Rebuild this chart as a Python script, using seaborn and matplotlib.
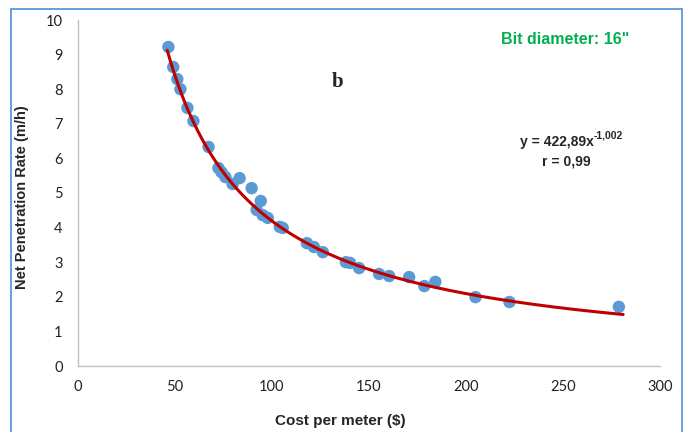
import numpy as np
import pandas as pd
import matplotlib
matplotlib.use("Agg")
import matplotlib.pyplot as plt
import seaborn as sns
from matplotlib.patches import Rectangle

# ---- data ----
cost = [46.6, 49.1, 51.2, 52.8, 56.4, 59.5, 67.3, 72.4, 74.0, 76.0, 79.7, 83.3,
        89.5, 94.2, 92.1, 95.2, 97.8, 104.0, 105.5, 118.0, 121.6, 126.2, 138.1,
        140.2, 144.9, 155.2, 160.4, 170.7, 178.5, 184.2, 204.9, 222.4, 278.8]
npr = [9.22, 8.64, 8.29, 8.00, 7.46, 7.08, 6.33, 5.72, 5.60, 5.46, 5.26, 5.43,
       5.14, 4.77, 4.51, 4.36, 4.28, 4.02, 3.99, 3.55, 3.44, 3.29, 3.00,
       2.98, 2.83, 2.66, 2.60, 2.57, 2.31, 2.43, 1.99, 1.85, 1.71]
# power trendline shown on the chart: y = a * x^b
coef_a = 422.89
coef_b = -1.002
trend_x_range = [46.0, 281.0]
x_ticks = [0, 50, 100, 150, 200, 250, 300]
y_ticks = list(range(0, 11))

df = pd.DataFrame({"cost": cost, "npr": npr})
tx = np.linspace(trend_x_range[0], trend_x_range[1], 300)
trend = pd.DataFrame({"cost": tx, "npr": coef_a * tx ** coef_b})

sns.set_theme(style="white")
plt.rcParams["font.family"] = ["Liberation Sans", "DejaVu Sans"]

fig = plt.figure(figsize=(6.85, 4.32), dpi=100)
ax = fig.add_axes([78/685, (432-366)/432, (660-78)/685, (366-20)/432])

sns.scatterplot(data=df, x="cost", y="npr", ax=ax, s=80, color="#5B9BD5",
                edgecolor="none", zorder=2)
sns.lineplot(data=trend, x="cost", y="npr", ax=ax, color="#C00000",
             linewidth=2.2, zorder=3)

ax.set_xlim(0, 300)
ax.set_ylim(0, 10)
ax.set_xticks(x_ticks)
ax.set_yticks(y_ticks)
ax.tick_params(axis="both", length=0, labelsize=10.5, colors="#222222")
ax.tick_params(axis="x", pad=10)
ax.tick_params(axis="y", pad=11)
for lab in ax.get_xticklabels() + ax.get_yticklabels():
    lab.set_fontfamily(["Lato", "DejaVu Sans"])
for s in ["top", "right"]:
    ax.spines[s].set_visible(False)
for s in ["left", "bottom"]:
    ax.spines[s].set_color("#BFBFBF")
    ax.spines[s].set_linewidth(1.0)

ax.set_xlabel("")
ax.set_ylabel("")
fig.text(340/685, 1-421/432, "Cost per meter ($)", fontsize=11, fontweight="bold",
         ha="center", va="center")
fig.text(22/685, 1-197/432, "Net Penetration Rate (m/h)", fontsize=10.5,
         fontweight="bold", rotation=90, ha="center", va="center")

fig.text(565/685, 1-40/432, 'Bit diameter: 16"', color="#00B050", fontsize=11.5,
         fontweight="bold", ha="center", va="center")
fig.text(338/685, 1-82/432, "b", fontsize=15, fontweight="bold",
         family=["Liberation Serif", "DejaVu Serif"], ha="center", va="center")
fig.text(594/685, 1-142/432, "y = 422,89x", fontsize=10,
         fontweight="bold", ha="right", va="center")
fig.text(594/685, 1-136/432, "-1,002", fontsize=7.5,
         fontweight="bold", ha="left", va="center")
fig.text(566/685, 1-161/432, "r = 0,99", fontsize=10, fontweight="bold",
         ha="center", va="center")

fig.patches.append(Rectangle((11/685, -0.05), (682-11)/685, 1.05 - 9/432,
                             transform=fig.transFigure, fill=False,
                             edgecolor="#4A90D9", linewidth=1.2))

fig.savefig("out.png", dpi=100)
